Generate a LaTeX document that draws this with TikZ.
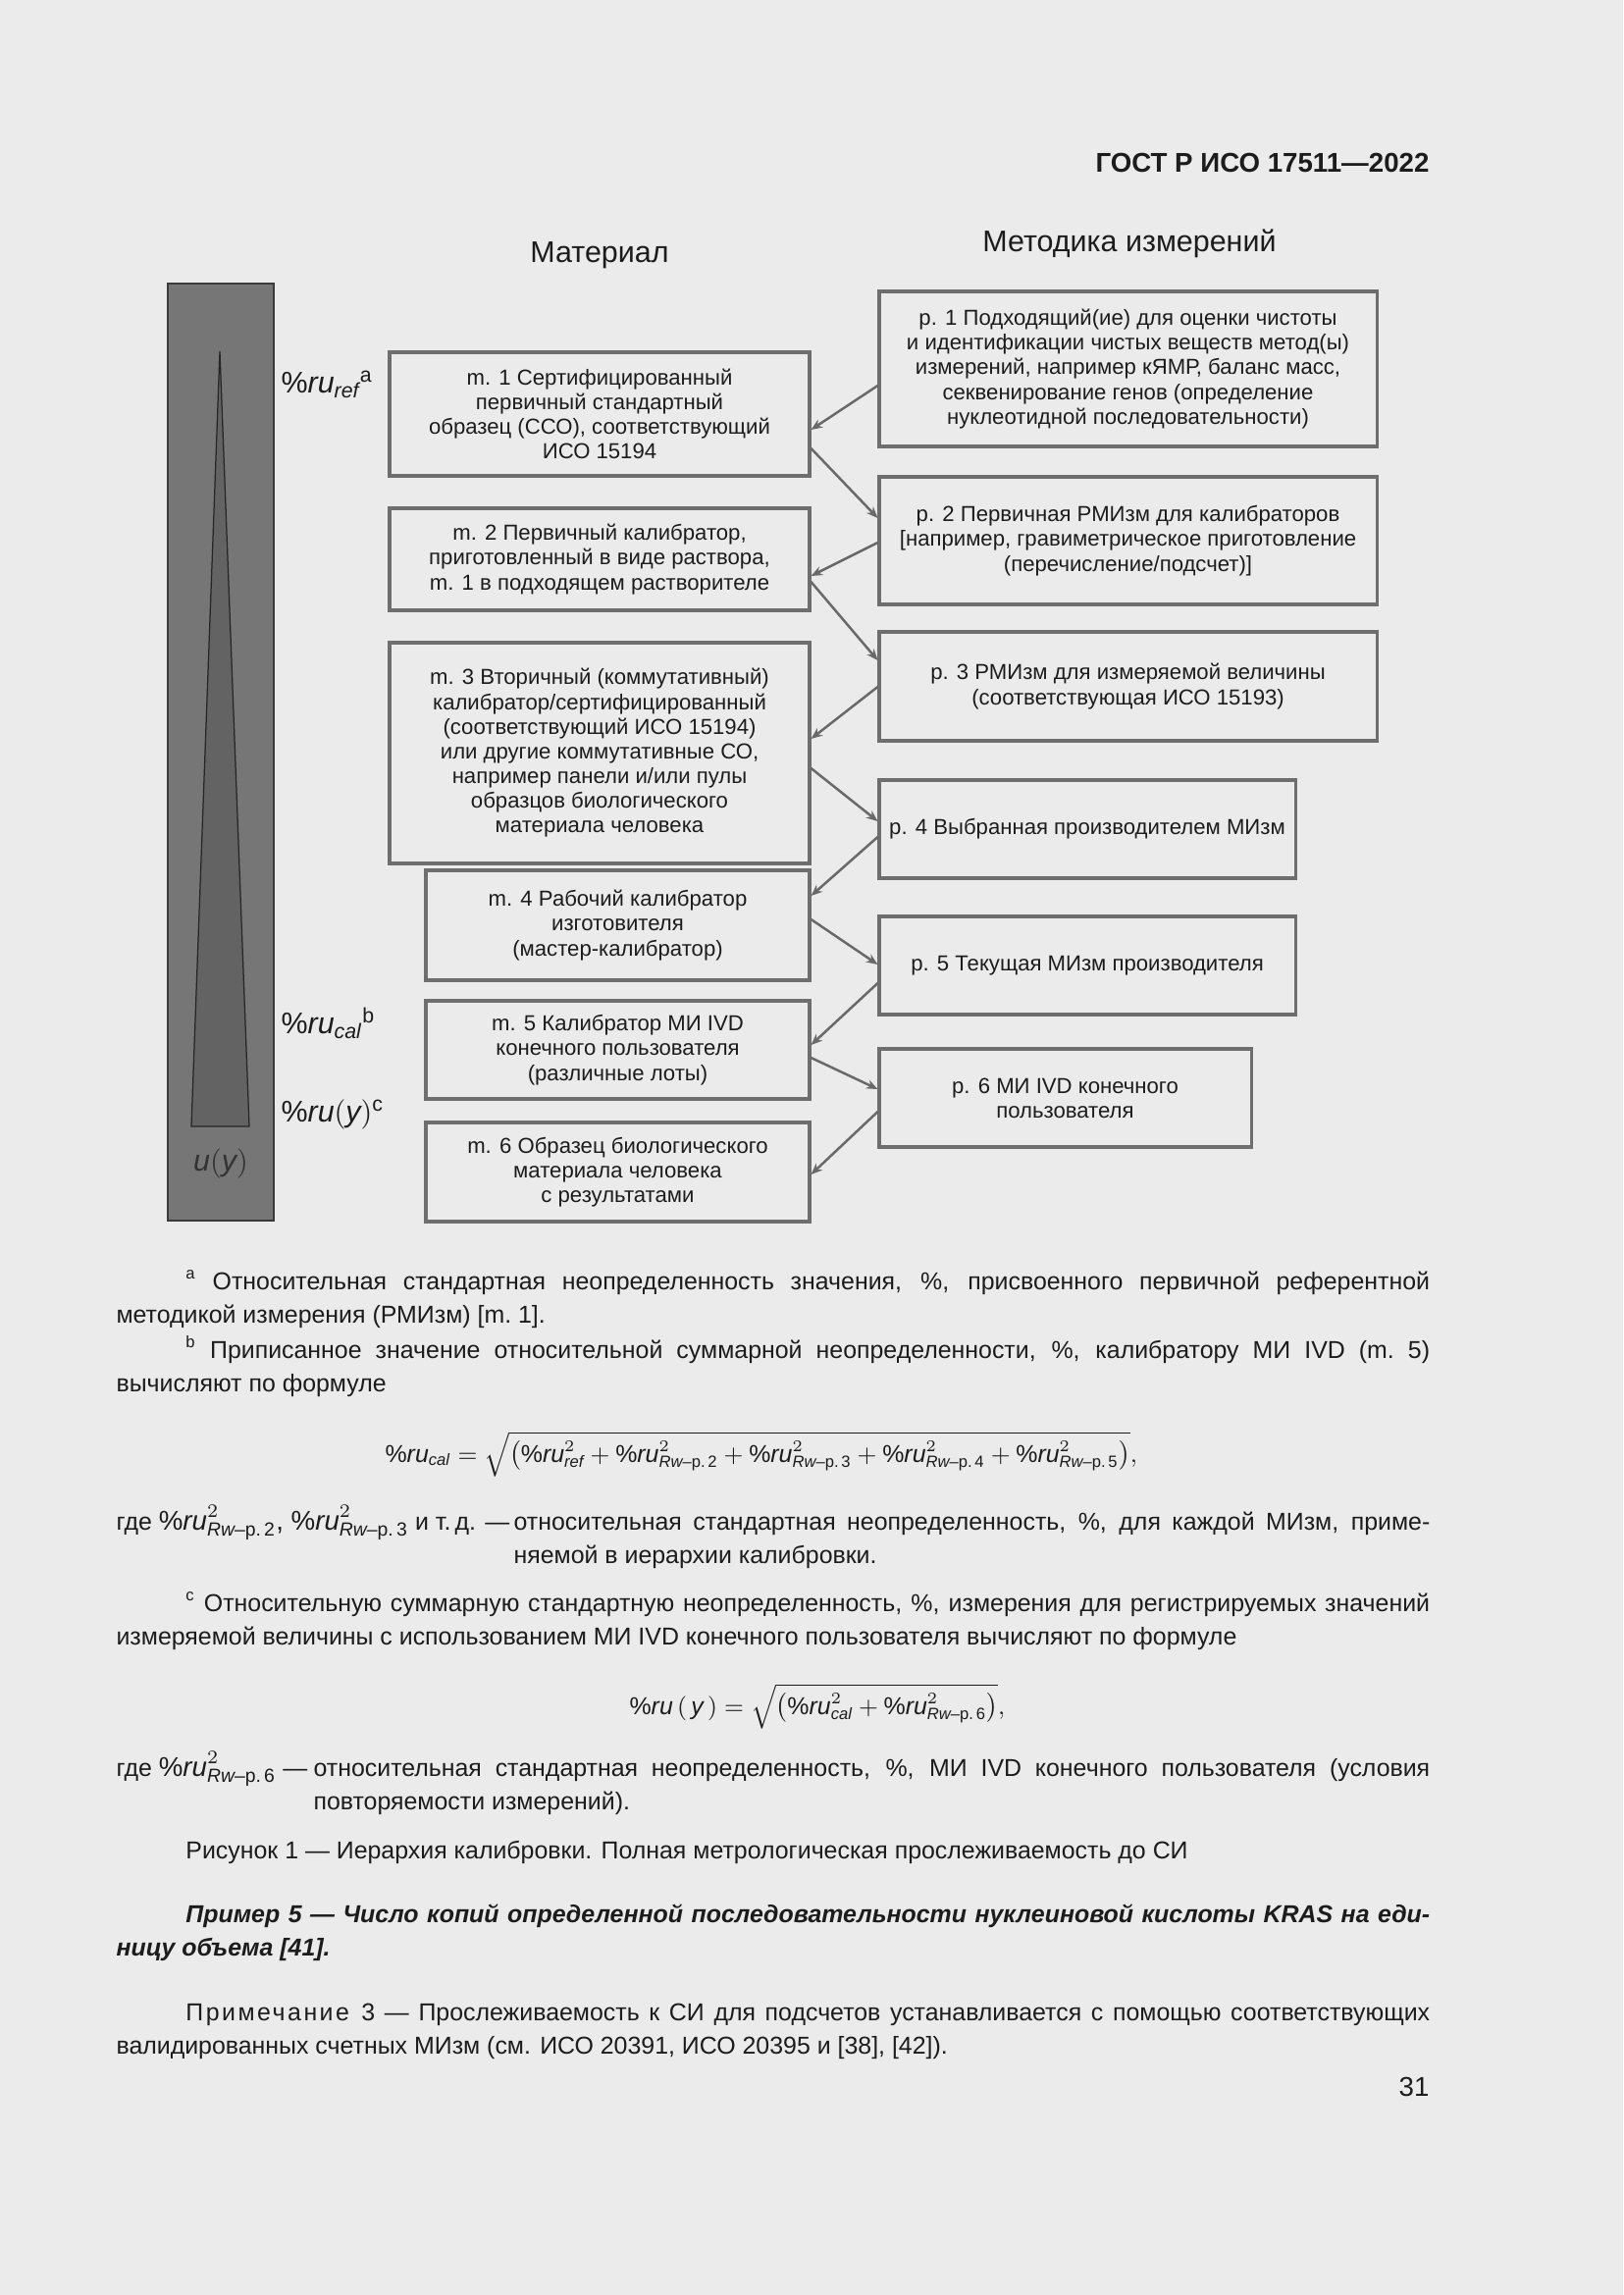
\documentclass[tikz,border=0pt]{standalone}
\usepackage{amsmath}
\usepackage{fontspec}
\setmainfont{Liberation Sans}
\usetikzlibrary{arrows.meta,calc}
\definecolor{pagebg}{HTML}{EBEBEB}
\definecolor{ink}{HTML}{1C1C1C}
\definecolor{boxgray}{HTML}{6E6E6E}
\definecolor{arrgray}{HTML}{696969}
\definecolor{bargray}{HTML}{767676}
\definecolor{bardark}{HTML}{3A3A3A}
\definecolor{trigray}{HTML}{636363}
\newcommand{\pxu}{0.127mm}
\newcommand{\ru}{\mathit{\%ru}}
\newcommand{\rw}[1]{\mathit{Rw}\text{–p.\,#1}}
\newcommand{\fmlsize}{\fontsize{10}{12.6}\selectfont}

\begin{document}
\begin{tikzpicture}[x=0.127mm,y=-0.127mm,
  box/.style={draw=boxgray,line width=1.1pt,align=center,inner sep=2pt,text=ink,font=\fontsize{8}{9.1}\selectfont},
  arr/.style={draw=arrgray,line width=0.9pt,-{Stealth[length=4.2pt,width=3.4pt]}},
  lbl/.style={anchor=base west,inner sep=0pt,text=ink,font=\fontsize{11}{13}\selectfont},
  head/.style={anchor=base,inner sep=0pt,text=ink,font=\fontsize{11}{13}\selectfont},
  para/.style={anchor=base west,inner sep=0pt,text width=170mm,align=justify,text=ink,font=\fontsize{9}{12.6}\selectfont},
  plain/.style={anchor=base west,inner sep=0pt,text=ink,font=\fontsize{9}{12.6}\selectfont}]
%page
\fill [pagebg] (0,0) rectangle (1654,2339);
\useasboundingbox (0,0) rectangle (1654,2339);

% Text Node
\node [anchor=base east,inner sep=0pt,text=ink,font=\fontsize{10}{12}\selectfont\bfseries] (hdr) at (1457,176) {ГОСТ Р ИСО 17511—2022};
% Text Node
\node [head] (hmat) at (611,268) {Материал};
% Text Node
\node [head] (hmet) at (1151,257) {Методика измерений};

%Shape: Rectangle (uncertainty bar)
\draw [fill=bargray,draw=bardark,line width=0.7pt] (171,289) rectangle (279,1244);
%Shape: Triangle
\draw [fill=trigray,draw=black!85,line width=0.45pt] (224,358) -- (254,1148) -- (195,1148) -- cycle;

% Text Node
\node [lbl] (lref) at (286,401) {$\ru_{\mathit{ref}}{}^{\mathrm{a}}$};
% Text Node
\node [lbl] (lcal) at (286,1053) {$\ru_{\mathit{cal}}{}^{\mathrm{b}}$};
% Text Node
\node [lbl] (luy) at (286,1143) {$\ru(\mathit{y})^{\mathrm{c}}$};
% Text Node
\node [anchor=base,inner sep=0pt,text=black!80,font=\fontsize{11}{13}\selectfont] (uy) at (225,1193) {$\mathit{u}(\mathit{y})$};

%Material boxes
\node [box,minimum width={428*\pxu},minimum height={126*\pxu}] (m1) at (611,422) {m. 1 Сертифицированный\\первичный стандартный\\образец (ССО), соответствующий\\ИСО 15194};
\node [box,minimum width={428*\pxu},minimum height={104*\pxu}] (m2) at (611,570) {m. 2 Первичный калибратор,\\приготовленный в виде раствора,\\m. 1 в подходящем растворителе};
\node [box,minimum width={428*\pxu},minimum height={225*\pxu}] (m3) at (611,767.5) {m. 3 Вторичный (коммутативный)\\калибратор/сертифицированный\\(соответствующий ИСО 15194)\\или другие коммутативные СО,\\например панели и/или пулы\\образцов биологического\\материала человека};
\node [box,minimum width={391*\pxu},minimum height={112*\pxu}] (m4) at (629.5,943) {m. 4 Рабочий калибратор\\изготовителя\\(мастер-калибратор)};
\node [box,minimum width={391*\pxu},minimum height={100*\pxu}] (m5) at (629.5,1070) {m. 5 Калибратор МИ IVD\\конечного пользователя\\(различные лоты)};
\node [box,minimum width={391*\pxu},minimum height={101*\pxu}] (m6) at (629.5,1194.5) {m. 6 Образец биологического\\материала человека\\с результатами};

%Procedure boxes
\node [box,minimum width={507*\pxu},minimum height={158*\pxu}] (p1) at (1149.5,376) {p. 1 Подходящий(ие) для оценки чистоты\\и идентификации чистых веществ метод(ы)\\измерений, например кЯМР, баланс масс,\\секвенирование генов (определение\\нуклеотидной последовательности)};
\node [box,minimum width={507*\pxu},minimum height={130*\pxu}] (p2) at (1149.5,551) {p. 2 Первичная РМИзм для калибраторов\\{[}например, гравиметрическое приготовление\\(перечисление/подсчет)]};
\node [box,minimum width={507*\pxu},minimum height={111*\pxu}] (p3) at (1149.5,699.5) {p. 3 РМИзм для измеряемой величины\\(соответствующая ИСО 15193)};
\node [box,minimum width={424*\pxu},minimum height={100*\pxu}] (p4) at (1108,845) {p. 4 Выбранная производителем МИзм};
\node [box,minimum width={424*\pxu},minimum height={100*\pxu}] (p5) at (1108,984) {p. 5 Текущая МИзм производителя};
\node [box,minimum width={379*\pxu},minimum height={100*\pxu}] (p6) at (1085.5,1119) {p. 6 МИ IVD конечного\\пользователя};

%Straight Lines
\draw [arr] ($(p1.west)+(0,17)$) -- ($(m1.east)+(0,16)$);
\draw [arr] ($(m1.east)+(0,35)$) -- ($(p2.west)+(0,-23)$);
\draw [arr] ($(p2.west)+(0,2)$) -- ($(m2.east)+(0,17)$);
\draw [arr] ($(m2.east)+(0,23)$) -- ($(p3.west)+(0,-26.5)$);
\draw [arr] ($(p3.west)+(0,0.5)$) -- ($(m3.east)+(0,-14.5)$);
\draw [arr] ($(m3.east)+(0,15.5)$) -- ($(p4.west)+(0,-8)$);
\draw [arr] ($(p4.west)+(0,8)$) -- ($(m4.east)+(0,-30)$);
\draw [arr] ($(m4.east)+(0,-6)$) -- ($(p5.west)+(0,-1)$);
\draw [arr] ($(p5.west)+(0,18)$) -- ($(m5.east)+(0,-5)$);
\draw [arr] ($(m5.east)+(0,8)$) -- ($(p6.west)+(0,-9)$);
\draw [arr] ($(p6.west)+(0,14)$) -- ($(m6.east)+(0,2.5)$);

% Text Node
\node [para] (fna) at (118,1314) {\hspace*{9mm}\textsuperscript{a} Относительная стандартная неопределенность значения, \%, присвоенного первичной референтной\linebreak методикой измерения (РМИзм) [m.~1].};
% Text Node
\node [para] (fnb) at (118,1384) {\hspace*{9mm}\textsuperscript{b} Приписанное значение относительной суммарной неопределенности, \%, калибратору МИ IVD (m.~5)\linebreak вычисляют по формуле};
% Text Node
\node [plain] (frcal) at (392,1490) {$\ru_{\mathit{cal}} = \sqrt{\left(\ru^2_{\mathit{ref}} + \ru^2_{\rw{2}} + \ru^2_{\rw{3}} + \ru^2_{\rw{4}} + \ru^2_{\rw{5}}\right)},$};
% Text Node
\node [plain] (gde1) at (118,1559) {где {\fmlsize$\ru^2_{\rw{2}}$, $\ru^2_{\rw{3}}$} и т.\,д. —};
\node [para,text width=118.6mm] (gde1t) at (523,1559) {относительная стандартная неопределенность, \%, для каждой МИзм, приме-\linebreak няемой в иерархии калибровки.};
% Text Node
\node [para] (fnc) at (118,1642) {\hspace*{9mm}\textsuperscript{c} Относительную суммарную стандартную неопределенность, \%, измерения для регистрируемых значений\linebreak измеряемой величины с использованием МИ IVD конечного пользователя вычисляют по формуле};
% Text Node
\node [plain] (fruy) at (641,1747) {$\ru\left(\,\mathit{y}\,\right) = \sqrt{\left(\ru^2_{\mathit{cal}} + \ru^2_{\rw{6}}\right)},$};
% Text Node
\node [plain] (gde2) at (118,1810) {где {\fmlsize$\ru^2_{\rw{6}}$} —};
\node [para,text width=144.5mm] (gde2t) at (319,1810) {относительная стандартная неопределенность, \%, МИ IVD конечного пользователя (условия\linebreak повторяемости измерений).};
% Text Node
\node [para] (cap) at (118,1894) {\hspace*{9mm}Рисунок 1 — Иерархия калибровки. Полная метрологическая прослеживаемость до СИ};
% Text Node
\node [para,font=\fontsize{9}{12.6}\selectfont\bfseries\itshape] (ex5) at (118,1959) {\hspace*{9mm}Пример 5 — Число копий определенной последовательности нуклеиновой кислоты KRAS на еди-\linebreak ницу объема [41].};
% Text Node
\node [para] (note3) at (118,2059) {\hspace*{9mm}{\addfontfeature{LetterSpace=10}Примечание}\enspace 3 — Прослеживаемость к СИ для подсчетов устанавливается с помощью соответствующих\linebreak валидированных счетных МИзм (см. ИСО 20391, ИСО 20395 и [38], [42]).};
% Text Node
\node [anchor=base east,inner sep=0pt,text=ink,font=\fontsize{10}{12}\selectfont] (pnum) at (1457,2136) {31};

\end{tikzpicture}
\end{document}
